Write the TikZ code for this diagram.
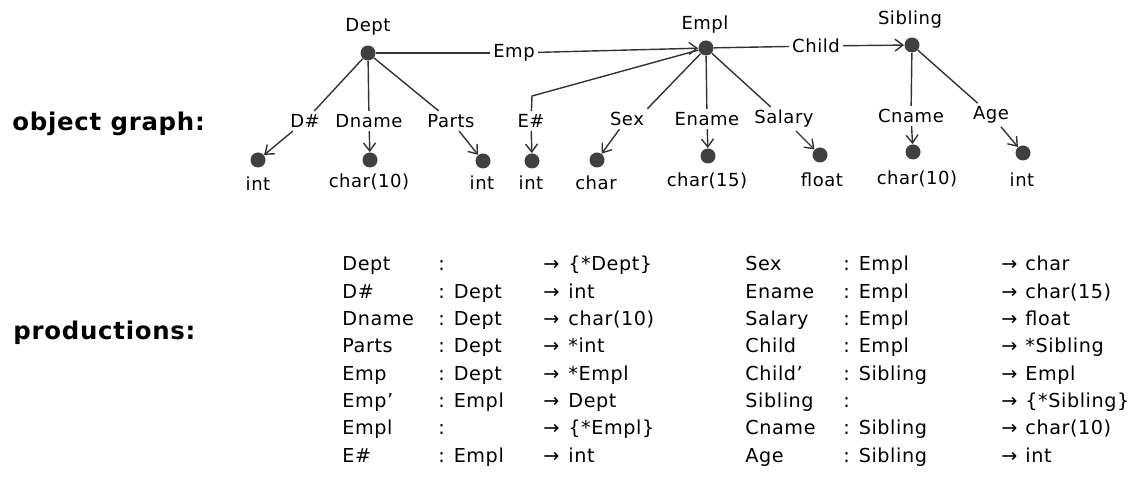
\documentclass[tikz,border=0pt]{standalone}
\usepackage{fontspec}
\setmainfont{DejaVu Sans}[LetterSpace=3]
\usetikzlibrary{arrows.meta}

\begin{document}
\begin{tikzpicture}[x=0.5pt,y=-0.5pt,
dot/.style={circle,fill=black!75,inner sep=0pt,minimum size=7.5pt},
lbl/.style={inner sep=1.5pt,font=\fontsize{9}{10}\selectfont},
edge/.style={draw=black!80,line width=0.7pt},
arr/.style={edge,-{Straight Barb[length=4pt,width=6pt]}},
prod/.style={anchor=base west,inner sep=0pt,font=\fontsize{9.6}{12}\selectfont},
head/.style={anchor=base west,inner sep=0pt,font=\bfseries\fontsize{12.2}{14}\selectfont}]
\useasboundingbox (0,0) rectangle (1132,496);

\node[head] (hgraph) at (12,131) {object graph:};
\node[head] (hprod) at (13,340) {productions:};

% object nodes
\node[dot] (dept) at (368,53) {};
\node[dot] (empl) at (706,48) {};
\node[dot] (sib) at (912,45) {};
\node[lbl] (deptT) at (368,27) {Dept};
\node[lbl] (emplT) at (705,25) {Empl};
\node[lbl] (sibT) at (910,20) {Sibling};

% leaves
\node[dot] (dnum) at (258,160) {};
\node[dot] (dname) at (370,160) {};
\node[dot] (parts) at (483,161) {};
\node[dot] (enum) at (532,161) {};
\node[dot] (sex) at (597,160) {};
\node[dot] (ename) at (708,156) {};
\node[dot] (salary) at (820,155) {};
\node[dot] (cname) at (913,152) {};
\node[dot] (age) at (1023,153) {};

\node[lbl] (dnumT) at (258,184) {int};
\node[lbl] (dnameT) at (369,182) {char(10)};
\node[lbl] (partsT) at (482,183) {int};
\node[lbl] (enumT) at (531,183) {int};
\node[lbl] (sexT) at (596,183) {char};
\node[lbl] (enameT) at (707,181) {char(15)};
\node[lbl] (salaryT) at (822,180) {float};
\node[lbl] (cnameT) at (917,179) {char(10)};
\node[lbl] (ageT) at (1022,180) {int};

% edge labels
\node[lbl] (empL) at (514,53) {Emp};
\node[lbl] (childL) at (816,46) {Child};
\node[lbl] (dnumL) at (305,121) {D\#};
\node[lbl] (dnameL) at (369,121) {Dname};
\node[lbl] (partsL) at (451,121) {Parts};
\node[lbl] (enumL) at (531,121) {E\#};
\node[lbl] (sexL) at (627,119) {Sex};
\node[lbl] (enameL) at (707,119) {Ename};
\node[lbl] (salaryL) at (784,119) {Salary};
\node[lbl] (cnameL) at (911,116) {Cname};
\node[lbl] (ageL) at (991,115) {Age};
\coordinate (ebend) at (532,96);

% edges
\draw[edge] (dept) -- (empL);
\draw[arr] (empL) -- (empl);
\draw[edge] (empl) -- (childL);
\draw[arr] (childL) -- (sib);
\draw[edge] (dept) -- (dnumL);
\draw[edge] (dept) -- (dnameL);
\draw[edge] (dept) -- (partsL);
\draw[edge] (empl) -- (ebend) -- (enumL);
\draw[edge] (empl) -- (sexL.north east);
\draw[edge] (empl) -- (enameL);
\draw[edge] (empl) -- (salaryL);
\draw[edge] (sib) -- (cnameL);
\draw[edge] (sib) -- (ageL);
\draw[arr] (dnumL) -- (dnum);
\draw[arr] (dnameL) -- (dname);
\draw[arr] (partsL) -- (parts);
\draw[arr] (enumL) -- (enum);
\draw[arr] (sexL) -- (sex);
\draw[arr] (enameL) -- (ename);
\draw[arr] (salaryL) -- (salary);
\draw[arr] (cnameL) -- (cname);
\draw[arr] (ageL) -- (age);

% productions, left half
\foreach \nm/\dom/\rng [count=\i from 0] in {
  Dept//\{*Dept\}, D\#/Dept/int, Dname/Dept/char(10), Parts/Dept/*int,
  Emp/Dept/*Empl, Emp’/Empl/Dept, Empl//\{*Empl\}, E\#/Empl/int}{
  \node[prod] (pa\i) at (342,{271+27.3*\i}) {\nm};
  \node[prod] (pb\i) at (438,{271+27.3*\i}) {: \dom};
  \node[prod] (pc\i) at (543,{271+27.3*\i}) {→};
  \node[prod] (pd\i) at (568,{271+27.3*\i}) {\rng};
}
% productions, right half
\foreach \nm/\dom/\rng [count=\i from 0] in {
  Sex/Empl/char, Ename/Empl/char(15), Salary/Empl/float, Child/Empl/*Sibling,
  Child’/Sibling/Empl, Sibling//\{*Sibling\}, Cname/Sibling/char(10), Age/Sibling/int}{
  \node[prod] (qa\i) at (745,{271+27.3*\i}) {\nm};
  \node[prod] (qb\i) at (843,{271+27.3*\i}) {: \dom};
  \node[prod] (qc\i) at (1001,{271+27.3*\i}) {→};
  \node[prod] (qd\i) at (1025,{271+27.3*\i}) {\rng};
}
\end{tikzpicture}
\end{document}
